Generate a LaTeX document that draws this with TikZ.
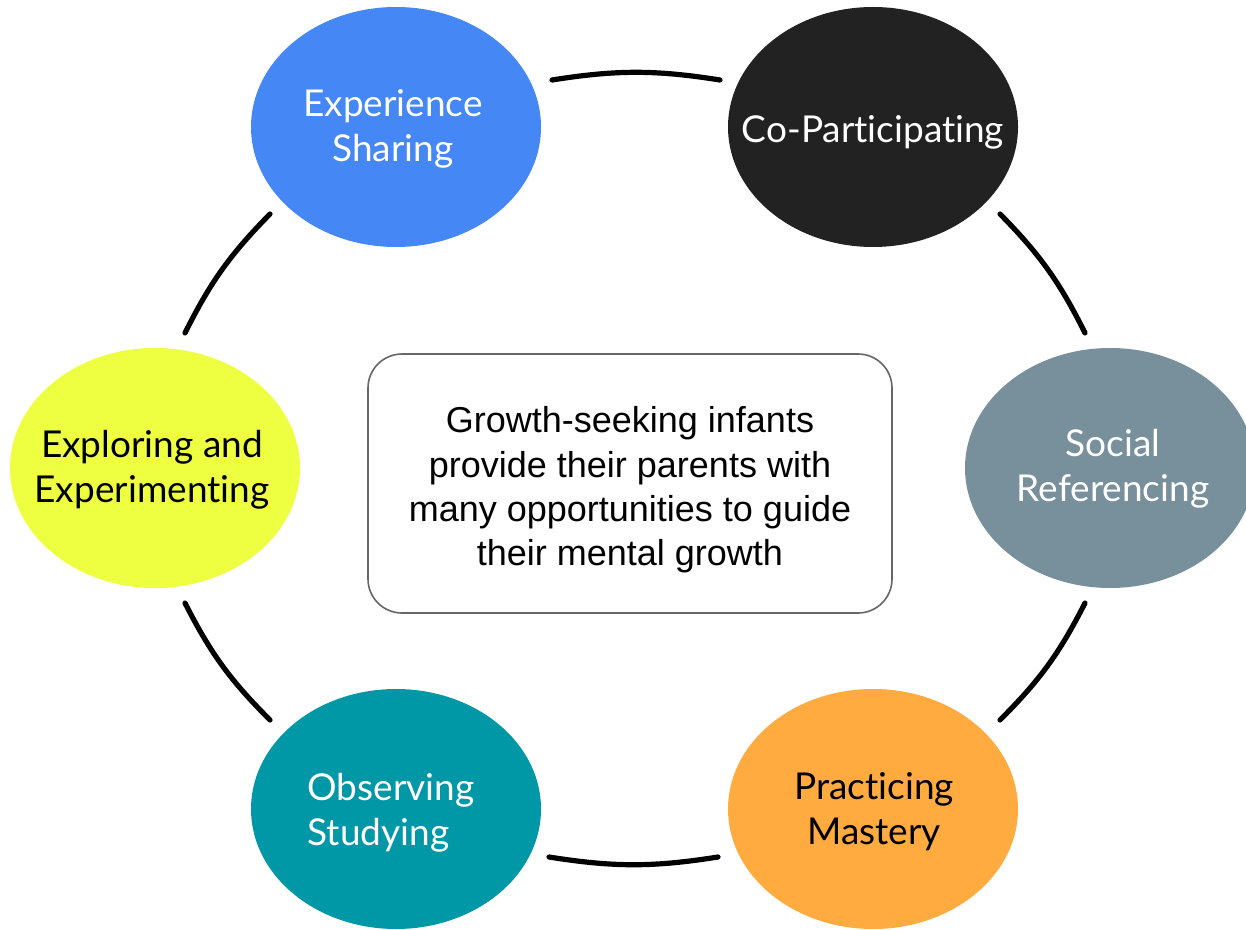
\documentclass[tikz,border=0pt]{standalone}
\usepackage{fontspec}
\setmainfont{Lato}[Ligatures={NoCommon}]
\newfontfamily\arialf{Liberation Sans}
\usetikzlibrary{shapes.geometric}
\definecolor{cblue}{HTML}{4487F5}
\definecolor{cblack}{HTML}{222222}
\definecolor{cgray}{HTML}{78909C}
\definecolor{corange}{HTML}{FFAB40}
\definecolor{cteal}{HTML}{0097A7}
\definecolor{cyellow}{HTML}{EEFF41}
\definecolor{cbox}{HTML}{666666}
\tikzset{
  bubble/.style={ellipse, minimum width=145pt, minimum height=120pt, inner sep=0pt},
  btext/.style={align=center, inner sep=0pt, font=\fontsize{18.5}{22.5}\selectfont},
  link/.style={line width=2.6pt, line cap=round, black, bend left=9},
  centerbox/.style={draw=cbox, line width=0.8pt, rounded corners=17pt, fill=white,
    minimum width=262pt, minimum height=129.5pt, inner sep=0pt},
  ctext/.style={align=center, inner sep=0pt, font=\arialf\fontsize{18}{22.2}\selectfont}
}
\begin{document}
\begin{tikzpicture}[x=0.5pt,y=-0.5pt]
\useasboundingbox (0,0) rectangle (1246,930);
\node[bubble, fill=cblue] (es) at (396,127) {};
\node[bubble, fill=cblack] (cp) at (873,127) {};
\node[bubble, fill=cgray] (sr) at (1110,468) {};
\node[bubble, fill=corange] (pm) at (873,809) {};
\node[bubble, fill=cteal] (os) at (396,809) {};
\node[bubble, fill=cyellow] (ee) at (155,468) {};
\node[btext, text=white] (est) at (393,129) {Experience\\Sharing};
\node[btext, text=white] (cpt) at (873,132) {Co-Participating};
\node[btext, text=white] (srt) at (1113,469) {Social\\Referencing};
\node[btext, text=black] (pmt) at (874,812) {Practicing\\Mastery};
\node[btext, text=white, align=left] (ost) at (391,813) {Observing\\Studying};
\node[btext, text=black] (eet) at (152,470) {Exploring and\\Experimenting};
\node[centerbox] (cb) at (630,483.5) {};
\node[ctext] (cbt) at (630,490) {Growth-seeking infants\\provide their parents with\\many opportunities to guide\\their mental growth};
\coordinate (t1) at (552,80);
\coordinate (t2) at (720,80);
\coordinate (r1) at (1000,214);
\coordinate (r2) at (1085,333);
\coordinate (r3) at (1085,603);
\coordinate (r4) at (1000,720);
\coordinate (b1) at (718,857);
\coordinate (b2) at (549,857);
\coordinate (l1) at (270,720);
\coordinate (l2) at (185,603);
\coordinate (l3) at (185,333);
\coordinate (l4) at (270,214);
\draw[link] (t1) to (t2);
\draw[link] (r1) to (r2);
\draw[link] (r3) to (r4);
\draw[link] (b1) to (b2);
\draw[link] (l1) to (l2);
\draw[link] (l3) to (l4);
\end{tikzpicture}
\end{document}
